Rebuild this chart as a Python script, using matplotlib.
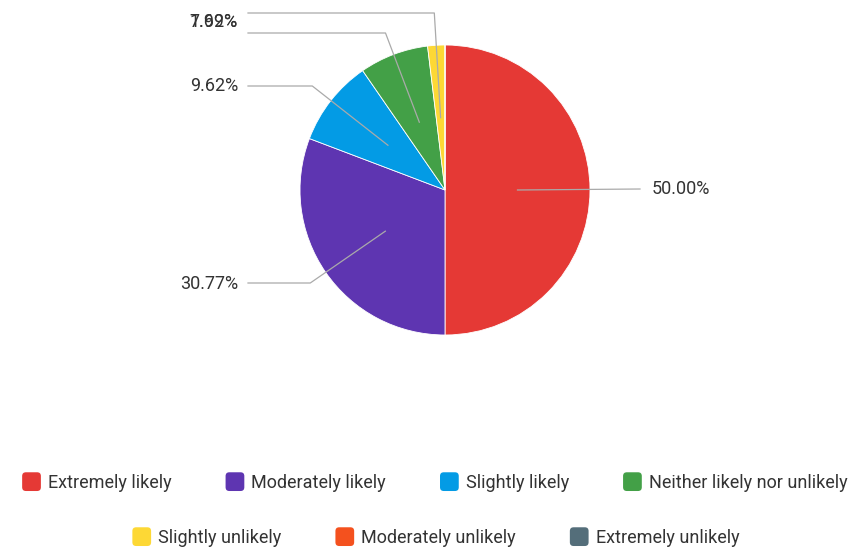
import matplotlib
matplotlib.use("Agg")
import matplotlib.pyplot as plt
from matplotlib.patches import FancyBboxPatch, Patch
from matplotlib.legend_handler import HandlerBase
import numpy as np

categories = ["Extremely likely", "Moderately likely", "Slightly likely",
              "Neither likely nor unlikely", "Slightly unlikely",
              "Moderately unlikely", "Extremely unlikely"]
values = [50.00, 30.77, 9.62, 7.69, 1.92, 0.0, 0.0]
colors = ["#e53935", "#5e35b1", "#039be5", "#43a047", "#fdd835", "#f4511e", "#546e7a"]

W, H = 858, 550
CX, CY, R = 445, 190, 145

fig = plt.figure(figsize=(W / 100, H / 100), dpi=100)
ax = fig.add_axes([0, 0, 1, 1])

ax.pie(values, colors=colors, startangle=90, counterclock=False, radius=1,
       wedgeprops=dict(linewidth=0.6, edgecolor="white"))
ax.set_xlim(-CX / R, (W - CX) / R)
ax.set_ylim((CY - H) / R, CY / R)
ax.set_aspect("equal")
ax.axis("off")


def px(y):
    return (CY - y) / R


# leader lines: (line y px, text y px, side)
label_pos = {0: (189, 189, "right"), 1: (283, 284, "left"), 2: (86, 86, "left"),
             3: (33, 22, "left"), 4: (13, 22, "left")}
tfont = dict(family=["Roboto", "DejaVu Sans"], fontsize=13, color="#333333")
cum = 0.0
for i, v in enumerate(values):
    mid = 90 - (cum + v / 2) * 3.6
    cum += v
    if v == 0:
        continue
    a = np.deg2rad(mid)
    dx, dy = np.cos(a), np.sin(a)
    ly, ty, side = label_pos[i]
    Y = px(ly)
    if side == "right":
        endx = (640 - CX) / R
        ax.plot([0.5 * dx, endx], [0.5 * dy, Y], color="#aaaaaa", lw=0.9)
        ax.text((652 - CX) / R, px(ty), f"{v:.2f}%", ha="left", va="center", **tfont)
    else:
        r = Y / dy
        ex = r * dx
        endx = (248 - CX) / R
        ax.plot([0.5 * dx, ex, endx], [0.5 * dy, Y, Y], color="#aaaaaa", lw=0.9)
        ax.text((238 - CX) / R, px(ty), f"{v:.2f}%", ha="right", va="center", **tfont)


class RoundSquare(HandlerBase):
    def create_artists(self, legend, orig, xd, yd, width, height, fontsize, trans):
        s = min(width, height)
        p = FancyBboxPatch((-xd + (width - s) / 2, -yd + (height - s) / 2), s, s,
                           boxstyle="round,pad=0,rounding_size=%f" % (s * 0.2),
                           facecolor=orig.get_facecolor(), edgecolor="none",
                           transform=trans)
        return [p]


handles = [Patch(facecolor=c) for c in colors]
lfont = dict(family=["Roboto", "DejaVu Sans"], size=13)
common = dict(frameon=False, prop=lfont, handlelength=1.22, handleheight=1.22,
              handletextpad=0.3, columnspacing=2.9, labelcolor="#333333",
              handler_map={Patch: RoundSquare()}, loc="center")
fig.legend(handles[:4], categories[:4], ncol=4, bbox_to_anchor=(434 / W, 1 - 482 / H), **common)
fig.legend(handles[4:], categories[4:], ncol=3, bbox_to_anchor=(435 / W, 1 - 537 / H), **common)

fig.savefig("out.png", dpi=100)
